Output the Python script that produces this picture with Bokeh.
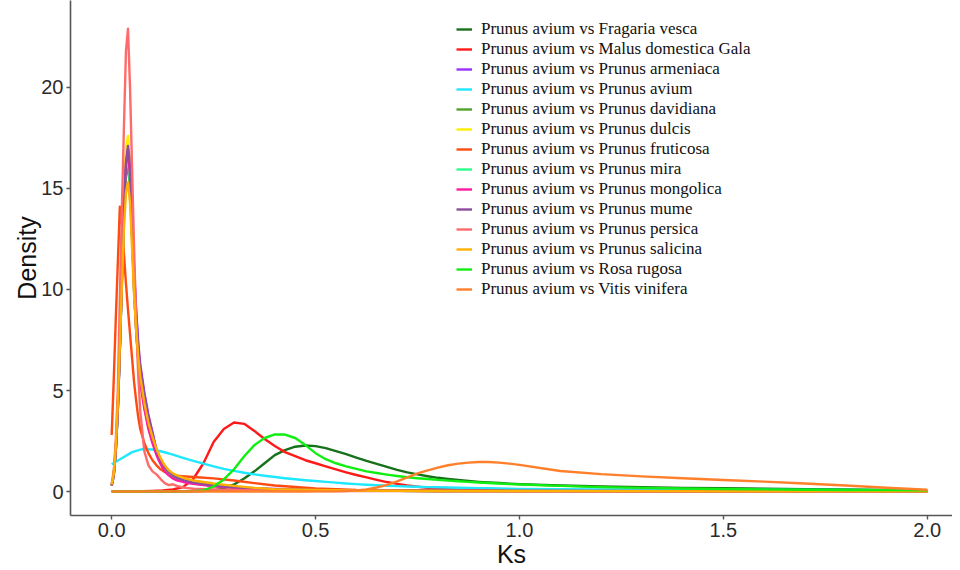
from bokeh.plotting import figure
from bokeh.models import Range1d, FixedTicker, PrintfTickFormatter, Legend, LegendItem
from bokeh.embed import file_html
from bokeh.resources import INLINE

# ---- data ----
KS_FINE = [0, 0.005, 0.01, 0.015, 0.02, 0.025, 0.03, 0.035, 0.04, 0.045, 0.05, 0.055, 0.06, 0.065, 0.07,
           0.08, 0.09, 0.1, 0.11, 0.12, 0.13, 0.14, 0.15, 0.16, 0.18, 0.2, 0.25, 0.3, 0.35, 0.4,
           0.5, 0.6, 0.8, 1.0, 1.25, 1.5, 1.75, 2.0]
KS_BROAD = [0.0, 0.025, 0.05, 0.075, 0.1, 0.125, 0.15, 0.175, 0.2, 0.225, 0.25, 0.275, 0.3, 0.325, 0.35,
            0.375, 0.4, 0.425, 0.45, 0.475, 0.5, 0.525, 0.55, 0.575, 0.6, 0.625, 0.65, 0.675, 0.7, 0.725,
            0.75, 0.775, 0.8, 0.825, 0.85, 0.875, 0.9, 0.925, 0.95, 0.975, 1.0,
            1.1, 1.2, 1.3, 1.4, 1.5, 1.6, 1.7, 1.8, 1.9, 2.0]

fragaria_vesca = [0, 0, 0, 0, 0, 0, 0, 0.01, 0.01,
                  0.02, 0.06, 0.15, 0.35, 0.65, 1.0, 1.4, 1.8, 2.05, 2.22, 2.28, 2.25, 2.15, 2.0, 1.85, 1.68,
                  1.52, 1.37, 1.22, 1.07, 0.95, 0.85, 0.76, 0.68, 0.62, 0.57, 0.52, 0.48, 0.45, 0.42, 0.39, 0.37,
                  0.3, 0.25, 0.21, 0.18, 0.16, 0.14, 0.12, 0.1, 0.08, 0.07]
malus_domestica = [0.02, 0.02, 0.02, 0.02, 0.03,
                   0.05, 0.1, 0.22, 0.62, 1.4, 2.45, 3.1, 3.42, 3.35, 3.0, 2.6, 2.25, 1.95, 1.75, 1.55, 1.4,
                   1.25, 1.1, 0.95, 0.82, 0.7, 0.58, 0.47, 0.38, 0.3, 0.24, 0.19, 0.15, 0.12, 0.1, 0.08, 0.07,
                   0.06, 0.05, 0.05, 0.04,
                   0.04, 0.03, 0.03, 0.03, 0.03, 0.02, 0.02, 0.02, 0.02, 0.02]
prunus_avium = [1.35, 1.65, 1.95, 2.1, 2.08, 1.97, 1.83, 1.67, 1.52, 1.38, 1.25, 1.12, 1.02, 0.93, 0.85,
                0.78, 0.72, 0.66, 0.61, 0.56, 0.52, 0.48, 0.44, 0.4, 0.37, 0.34, 0.31, 0.29, 0.27, 0.25,
                0.24, 0.22, 0.21, 0.2, 0.19, 0.18, 0.17, 0.16, 0.15, 0.14, 0.13,
                0.12, 0.11, 0.1, 0.1, 0.09, 0.09, 0.08, 0.08, 0.07, 0.07]
rosa_rugosa = [0, 0, 0, 0, 0, 0, 0, 0.01,
               0.02, 0.06, 0.25, 0.6, 1.1, 1.75, 2.3, 2.65, 2.83, 2.82, 2.65, 2.3, 1.9, 1.6, 1.4, 1.25, 1.12,
               1.0, 0.92, 0.84, 0.77, 0.71, 0.66, 0.62, 0.58, 0.54, 0.51, 0.48, 0.45, 0.42, 0.4, 0.37, 0.35,
               0.28, 0.22, 0.18, 0.15, 0.13, 0.11, 0.09, 0.08, 0.07, 0.06]
vitis_vinifera = [0, 0, 0, 0, 0, 0, 0, 0, 0, 0, 0, 0, 0, 0, 0, 0, 0, 0, 0, 0, 0.01, 0.01, 0.01,
                  0.03, 0.06, 0.11, 0.2, 0.33, 0.5, 0.7, 0.9, 1.05, 1.18, 1.3, 1.38, 1.43, 1.46, 1.46, 1.43,
                  1.38, 1.32,
                  1.02, 0.86, 0.75, 0.66, 0.57, 0.49, 0.4, 0.3, 0.19, 0.09]

prunus_armeniaca = [0.3, 0.8, 2.0, 4.0, 7.0, 10.5, 14.0, 16.5, 17.2, 16.2, 13.6, 11.0, 9.0, 7.4, 6.3,
                    4.9, 3.8, 2.95, 2.05, 1.6, 1.25, 1.0, 0.82, 0.7, 0.56, 0.46, 0.32, 0.23, 0.17, 0.13,
                    0.09, 0.06, 0.04, 0.03, 0.02, 0.02, 0.01, 0.01]
prunus_davidiana = [0.3, 0.8, 2.0, 4.0, 7.0, 10.3, 13.5, 15.6, 16.2, 15.0, 12.5, 9.9, 8.0, 6.6, 5.5,
                    4.2, 3.2, 2.5, 1.9, 1.45, 1.12, 0.9, 0.75, 0.64, 0.5, 0.4, 0.28, 0.2, 0.14, 0.1,
                    0.07, 0.05, 0.03, 0.02, 0.02, 0.01, 0.01, 0.01]
prunus_dulcis = [0.3, 0.8, 2.1, 4.3, 7.5, 11.2, 14.8, 17.0, 17.6, 16.0, 13.0, 10.2, 8.2, 6.8, 5.7,
                 4.3, 3.3, 2.6, 2.0, 1.5, 1.2, 1.0, 0.85, 0.72, 0.55, 0.45, 0.3, 0.2, 0.15, 0.1,
                 0.07, 0.05, 0.03, 0.02, 0.02, 0.01, 0.01, 0.01]
prunus_fruticosa = [2.8, 5.5, 8.5, 11.3, 14.1, 13.2, 11.8, 10.3, 9.0, 7.8, 6.6, 5.4, 4.5, 3.7, 3.1,
                    2.4, 1.9, 1.55, 1.3, 1.1, 0.97, 0.88, 0.82, 0.78, 0.75, 0.72, 0.65, 0.55, 0.42, 0.3,
                    0.15, 0.08, 0.05, 0.04, 0.03, 0.02, 0.02, 0.01]
prunus_mira = [0.3, 0.8, 2.0, 4.1, 7.2, 10.6, 14.0, 16.0, 16.5, 15.3, 12.7, 10.0, 8.1, 6.7, 5.6,
               4.3, 3.3, 2.55, 1.95, 1.5, 1.15, 0.92, 0.77, 0.66, 0.52, 0.42, 0.29, 0.2, 0.14, 0.1,
               0.07, 0.05, 0.03, 0.02, 0.02, 0.01, 0.01, 0.01]
prunus_mongolica = [0.3, 0.8, 2.0, 4.1, 7.2, 10.6, 14.0, 16.2, 16.9, 15.6, 12.8, 10.0, 8.0, 6.5, 5.4,
                    4.1, 3.1, 2.4, 1.8, 1.35, 1.0, 0.8, 0.65, 0.55, 0.45, 0.38, 0.26, 0.18, 0.13, 0.1,
                    0.07, 0.05, 0.03, 0.02, 0.02, 0.01, 0.01, 0.01]
prunus_mume = [0.3, 0.8, 2.0, 4.0, 7.0, 10.4, 13.8, 16.3, 17.1, 16.1, 13.4, 10.8, 8.8, 7.2, 6.1,
               4.8, 3.7, 2.85, 2.0, 1.55, 1.2, 0.97, 0.8, 0.68, 0.54, 0.44, 0.3, 0.21, 0.15, 0.11,
               0.07, 0.05, 0.03, 0.02, 0.02, 0.01, 0.01, 0.01]
prunus_persica = [0.4, 1.0, 2.5, 5.0, 9.5, 14.0, 18.0, 21.8, 22.9, 20.0, 16.0, 12.0, 8.5, 5.8, 4.0,
                  2.0, 1.3, 1.0, 0.85, 0.62, 0.42, 0.32, 0.36, 0.28, 0.18, 0.14, 0.1, 0.08, 0.06, 0.05,
                  0.03, 0.02, 0.02, 0.01, 0.01, 0.01, 0.01, 0.01]
prunus_salicina = [0.35, 0.9, 2.2, 4.3, 7.2, 10.2, 13.0, 14.8, 15.3, 14.3, 12.0, 9.7, 8.0, 6.7, 5.7,
                   4.4, 3.4, 2.7, 2.1, 1.65, 1.3, 1.05, 0.9, 0.8, 0.65, 0.55, 0.4, 0.28, 0.18, 0.12,
                   0.08, 0.05, 0.03, 0.02, 0.02, 0.01, 0.01, 0.01]

SERIES = [
    ("Prunus avium vs Fragaria vesca", KS_BROAD, fragaria_vesca, "#17701a"),
    ("Prunus avium vs Malus domestica Gala", KS_BROAD, malus_domestica, "#ff1a1a"),
    ("Prunus avium vs Prunus armeniaca", KS_FINE, prunus_armeniaca, "#9b30ff"),
    ("Prunus avium vs Prunus avium", KS_BROAD, prunus_avium, "#1ee8ff"),
    ("Prunus avium vs Prunus davidiana", KS_FINE, prunus_davidiana, "#4fa22a"),
    ("Prunus avium vs Prunus dulcis", KS_FINE, prunus_dulcis, "#ffee00"),
    ("Prunus avium vs Prunus fruticosa", KS_FINE, prunus_fruticosa, "#ff4a10"),
    ("Prunus avium vs Prunus mira", KS_FINE, prunus_mira, "#2bff8a"),
    ("Prunus avium vs Prunus mongolica", KS_FINE, prunus_mongolica, "#ff1aa0"),
    ("Prunus avium vs Prunus mume", KS_FINE, prunus_mume, "#8f4d9f"),
    ("Prunus avium vs Prunus persica", KS_FINE, prunus_persica, "#ff6b6b"),
    ("Prunus avium vs Prunus salicina", KS_FINE, prunus_salicina, "#ffb000"),
    ("Prunus avium vs Rosa rugosa", KS_BROAD, rosa_rugosa, "#11ee11"),
    ("Prunus avium vs Vitis vinifera", KS_BROAD, vitis_vinifera, "#ff7f2a"),
]

X_TICKS = [0.0, 0.5, 1.0, 1.5, 2.0]
Y_TICKS = [0, 5, 10, 15, 20]

p = figure(width=952, height=570, output_backend="svg", toolbar_location=None,
           x_range=Range1d(-0.101, 2.062), y_range=Range1d(-1.185, 24.3),
           min_border_left=70, min_border_right=0, min_border_top=0, min_border_bottom=54,
           background_fill_color="white", border_fill_color="white")
p.outline_line_color = None
p.xgrid.visible = False
p.ygrid.visible = False

items = []
for label, xs, ys, color in SERIES:
    r = p.line(xs, ys, line_color=color, line_width=2.4, line_join="round")
    items.append(LegendItem(label=label, renderers=[r]))

for ax in (p.xaxis[0], p.yaxis[0]):
    ax.axis_line_color = "#555555"
    ax.axis_line_width = 1.6
    ax.major_tick_line_color = "#555555"
    ax.major_tick_line_width = 1.4
    ax.major_tick_out = 4
    ax.major_tick_in = 0
    ax.minor_tick_line_color = None
    ax.major_label_text_font = "Liberation Sans"
    ax.major_label_text_font_size = "20px"
    ax.major_label_text_color = "#2b2b2b"
    ax.axis_label_text_font = "Liberation Sans"
    ax.axis_label_text_font_size = "25px"
    ax.axis_label_text_font_style = "normal"
    ax.axis_label_text_color = "#111111"
    ax.major_label_standoff = 3

p.xaxis[0].axis_label_standoff = 0
p.yaxis[0].axis_label_standoff = -3
p.xaxis[0].ticker = FixedTicker(ticks=X_TICKS)
p.xaxis[0].formatter = PrintfTickFormatter(format="%.1f")
p.yaxis[0].ticker = FixedTicker(ticks=Y_TICKS)
p.xaxis[0].axis_label = "Ks"
p.yaxis[0].axis_label = "Density"

legend = Legend(items=items, location=(386, 216),
                label_text_font="Liberation Serif", label_text_font_size="17px",
                label_text_color="#111111",
                glyph_width=16, glyph_height=20, label_height=20, spacing=0,
                padding=0, margin=0, label_standoff=9,
                background_fill_alpha=0, border_line_alpha=0)
p.add_layout(legend)

open("out.html", "w").write(file_html(p, INLINE))
